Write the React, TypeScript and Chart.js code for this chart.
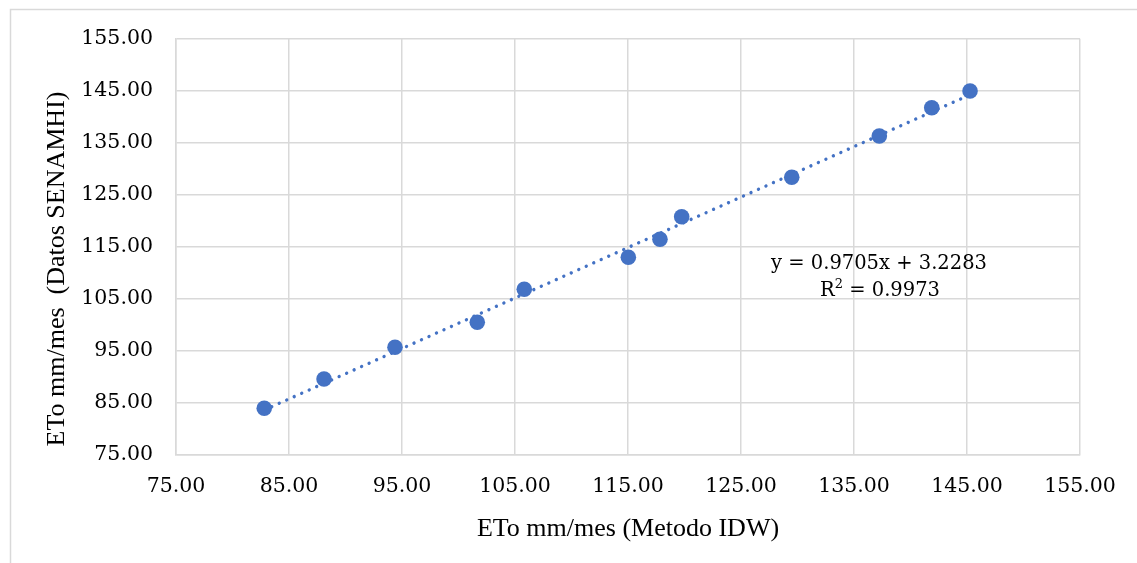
import React, { useEffect, useRef } from "react";
import { Chart, registerables } from "chart.js";

Chart.register(...registerables);

// Data
const idwValues = [82.81, 88.1, 94.38, 101.66, 105.82, 115.03, 117.83, 119.75, 129.49, 137.24, 141.88, 145.27];
const senamhiValues = [83.92, 89.56, 95.65, 100.46, 106.81, 112.96, 116.42, 120.77, 128.35, 136.29, 141.73, 144.94];
const axisMin = 75;
const axisMax = 155;
const axisStep = 10;
const trendSlope = 0.9705;
const trendIntercept = 3.2283;
const rSquared = "0.9973";
const xTitle = "ETo mm/mes (Metodo IDW)";
const yTitle = "ETo mm/mes  (Datos SENAMHI)";

const BLUE = "#4472C4";
const GRID = "#d9d9d9";
const TICK_FONT = '"DejaVu Serif", serif';
const TITLE_FONT = '"Liberation Serif", "Times New Roman", serif';

export default function App() {
  const ref = useRef<HTMLCanvasElement | null>(null);

  useEffect(() => {
    if (!ref.current) return;
    const points = idwValues.map((x, i) => ({ x, y: senamhiValues[i] }));
    const xs = [Math.min(...idwValues), Math.max(...idwValues)];
    const trend = xs.map((x) => ({ x, y: trendSlope * x + trendIntercept }));

    const framePlugin = {
      id: "frame",
      beforeDraw(chart: any) {
        const ctx = chart.ctx;
        ctx.save();
        ctx.strokeStyle = GRID;
        ctx.lineWidth = 1.5;
        ctx.strokeRect(10.5, 9.5, 2000, 2000);
        ctx.restore();
      },
    };

    const textPlugin = {
      id: "texts",
      afterDraw(chart: any) {
        const ctx = chart.ctx;
        ctx.save();
        // y axis title
        ctx.translate(57, 269);
        ctx.rotate(-Math.PI / 2);
        ctx.font = `26px ${TITLE_FONT}`;
        ctx.fillStyle = "#000";
        ctx.textAlign = "center";
        ctx.textBaseline = "middle";
        ctx.fillText(yTitle, 0, 0);
        ctx.restore();

        // trendline equation
        ctx.save();
        ctx.fillStyle = "#000";
        ctx.textBaseline = "middle";
        ctx.textAlign = "center";
        ctx.font = `19.5px ${TICK_FONT}`;
        const eq = `y = ${trendSlope}x + ${trendIntercept}`;
        ctx.fillText(eq, 879, 264);
        // R² line with superscript
        const p1 = "R";
        const p2 = "2";
        const p3 = ` = ${rSquared}`;
        ctx.textAlign = "left";
        const w1 = ctx.measureText(p1).width;
        const w3 = ctx.measureText(p3).width;
        ctx.font = `13px ${TICK_FONT}`;
        const w2 = ctx.measureText(p2).width;
        const total = w1 + w2 + w3;
        let x = 880 - total / 2;
        ctx.font = `19.5px ${TICK_FONT}`;
        ctx.fillText(p1, x, 291);
        x += w1;
        ctx.font = `13px ${TICK_FONT}`;
        ctx.fillText(p2, x, 285);
        x += w2;
        ctx.font = `19.5px ${TICK_FONT}`;
        ctx.fillText(p3, x, 291);
        ctx.restore();
      },
    };

    const chart = new Chart(ref.current, {
      type: "scatter",
      data: {
        datasets: [
          {
            label: "ETo",
            data: points,
            backgroundColor: BLUE,
            borderColor: BLUE,
            pointRadius: 7.8,
            pointHoverRadius: 7.8,
            pointBorderWidth: 0,
          },
          {
            label: "Tendencia",
            type: "line",
            data: trend,
            showLine: true,
            borderColor: BLUE,
            borderWidth: 3.4,
            borderDash: [0.001, 8.2],
            borderCapStyle: "round",
            pointRadius: 0,
            fill: false,
            tension: 0,
          } as any,
        ],
      },
      options: {
        responsive: false,
        animation: false,
        devicePixelRatio: 1,
        layout: { padding: { left: 0, top: 38.7, right: 57, bottom: 0 } },
        plugins: {
          legend: { display: false },
          tooltip: { enabled: false },
        },
        scales: {
          x: {
            type: "linear",
            min: axisMin,
            max: axisMax,
            ticks: {
              stepSize: axisStep,
              padding: 20,
              color: "#000",
              font: { family: TICK_FONT, size: 20.5 },
              callback: (v: any) => Number(v).toFixed(2),
            },
            grid: { color: GRID, lineWidth: 1.5, drawTicks: false },
            border: { color: GRID, width: 1.5 },
            title: {
              display: true,
              text: xTitle,
              color: "#000",
              font: { family: TITLE_FONT, size: 26 },
              padding: { top: 0, bottom: 18.4 },
            },
            afterFit: (scale: any) => {
              scale.height = 563 - 454.7;
            },
          },
          y: {
            type: "linear",
            min: axisMin,
            max: axisMax,
            ticks: {
              stepSize: axisStep,
              padding: 23,
              color: "#000",
              font: { family: TICK_FONT, size: 20.5 },
              callback: (v: any) => Number(v).toFixed(2),
            },
            grid: { color: GRID, lineWidth: 1.5, drawTicks: false },
            border: { color: GRID, width: 1.5 },
            afterFit: (scale: any) => {
              scale.width = 176;
            },
          },
        },
      },
      plugins: [framePlugin, textPlugin],
    });
    return () => chart.destroy();
  }, []);

  return (
    <div style={{ position: "fixed", left: 0, top: 0, width: 1137, height: 563, background: "#fff" }}>
      <canvas ref={ref} width={1137} height={563} style={{ width: 1137, height: 563, display: "block" }} />
    </div>
  );
}
